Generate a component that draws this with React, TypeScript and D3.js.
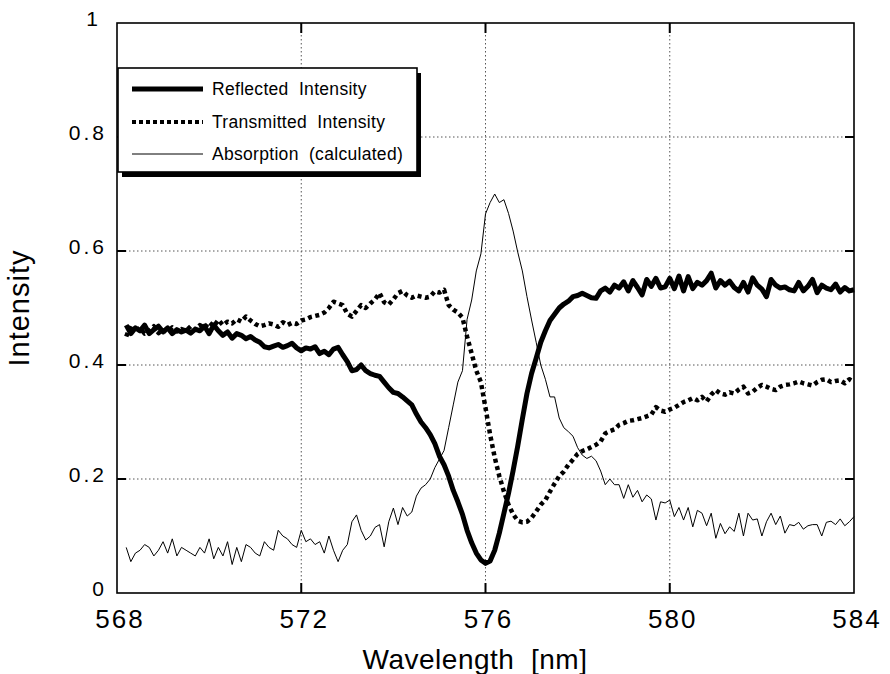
import React from "react";
import * as d3 from "d3";

// sampling grid: 568.2 .. 584.0 nm, 0.1 nm apart
const wavelengths = d3.range(0, 159).map(i => +(568.2 + i * 0.1).toFixed(1));

const reflected = [
  0.47, 0.455, 0.465, 0.46, 0.47, 0.455, 0.462, 0.468,
  0.458, 0.465, 0.455, 0.462, 0.458, 0.461, 0.456, 0.463, 0.46, 0.468,
  0.455, 0.47, 0.46, 0.452, 0.458, 0.447, 0.455, 0.452, 0.446, 0.45,
  0.444, 0.44, 0.432, 0.43, 0.433, 0.436, 0.431, 0.434, 0.438, 0.43,
  0.425, 0.43, 0.428, 0.432, 0.42, 0.424, 0.418, 0.428, 0.431, 0.418,
  0.406, 0.39, 0.392, 0.4, 0.39, 0.385, 0.382, 0.38, 0.37, 0.36,
  0.352, 0.35, 0.344, 0.337, 0.33, 0.314, 0.3, 0.29, 0.278, 0.262,
  0.24, 0.225, 0.205, 0.18, 0.16, 0.138, 0.11, 0.088, 0.07, 0.058,
  0.052, 0.056, 0.075, 0.105, 0.14, 0.175, 0.215, 0.258, 0.305, 0.35,
  0.385, 0.412, 0.44, 0.46, 0.478, 0.489, 0.5, 0.507, 0.512, 0.52,
  0.522, 0.526, 0.522, 0.518, 0.517, 0.53, 0.535, 0.528, 0.54, 0.535,
  0.546, 0.53, 0.548, 0.536, 0.523, 0.55, 0.538, 0.552, 0.535, 0.537,
  0.552, 0.534, 0.556, 0.53, 0.555, 0.534, 0.545, 0.54, 0.548, 0.561,
  0.535, 0.548, 0.54, 0.547, 0.536, 0.53, 0.545, 0.528, 0.553, 0.54,
  0.533, 0.52, 0.55, 0.54, 0.535, 0.537, 0.532, 0.53, 0.545, 0.53,
  0.538, 0.55, 0.527, 0.54, 0.535, 0.532, 0.542, 0.528, 0.536, 0.53,
  0.532,
];

const transmitted = [
  0.45, 0.47, 0.458, 0.465, 0.455, 0.46, 0.468, 0.456,
  0.462, 0.458, 0.466, 0.459, 0.463, 0.46, 0.468, 0.462, 0.47, 0.465,
  0.475, 0.468, 0.479, 0.47, 0.476, 0.473, 0.48, 0.476, 0.485, 0.478,
  0.472, 0.468, 0.47, 0.473, 0.471, 0.467, 0.475, 0.47, 0.474, 0.472,
  0.478, 0.48, 0.484, 0.486, 0.488, 0.492, 0.5, 0.511, 0.508, 0.505,
  0.49, 0.485, 0.495, 0.505, 0.5, 0.508, 0.515, 0.526, 0.51, 0.506,
  0.515, 0.526, 0.53, 0.522, 0.518, 0.522, 0.52, 0.518, 0.52, 0.529,
  0.527, 0.532, 0.505, 0.497, 0.492, 0.483, 0.45, 0.42, 0.39, 0.37,
  0.325, 0.278, 0.238, 0.205, 0.178, 0.155, 0.138, 0.127, 0.124, 0.125,
  0.132, 0.143, 0.155, 0.163, 0.178, 0.192, 0.205, 0.213, 0.225, 0.234,
  0.244, 0.249, 0.252, 0.256, 0.26, 0.266, 0.28, 0.284, 0.287, 0.295,
  0.298, 0.302, 0.303, 0.305, 0.307, 0.31, 0.313, 0.326, 0.32, 0.318,
  0.322, 0.325, 0.33, 0.335, 0.338, 0.342, 0.338, 0.344, 0.336, 0.348,
  0.356, 0.35, 0.348, 0.352, 0.35, 0.357, 0.362, 0.35, 0.353, 0.36,
  0.365, 0.362, 0.358, 0.356, 0.362, 0.365, 0.366, 0.368, 0.371, 0.368,
  0.366, 0.364, 0.37, 0.374, 0.375, 0.37, 0.372, 0.373, 0.368, 0.375,
  0.37,
];

const absorption = [
  0.08, 0.055, 0.07, 0.075, 0.085, 0.08, 0.065, 0.075,
  0.09, 0.07, 0.095, 0.065, 0.08, 0.075, 0.07, 0.065, 0.08, 0.07,
  0.095, 0.06, 0.08, 0.065, 0.09, 0.05, 0.08, 0.055, 0.085, 0.08,
  0.07, 0.065, 0.09, 0.08, 0.075, 0.11, 0.1, 0.095, 0.085, 0.08,
  0.11, 0.09, 0.095, 0.085, 0.09, 0.07, 0.1, 0.075, 0.055, 0.075,
  0.085, 0.125, 0.137, 0.11, 0.093, 0.1, 0.115, 0.12, 0.081, 0.125,
  0.149, 0.12, 0.15, 0.135, 0.142, 0.17, 0.184, 0.19, 0.2, 0.22,
  0.235, 0.25, 0.29, 0.33, 0.37, 0.39, 0.48, 0.514, 0.565, 0.595,
  0.665, 0.685, 0.7, 0.685, 0.69, 0.666, 0.635, 0.598, 0.565, 0.52,
  0.479, 0.44, 0.4, 0.375, 0.344, 0.344, 0.307, 0.29, 0.283, 0.275,
  0.255, 0.242, 0.236, 0.24, 0.232, 0.214, 0.19, 0.2, 0.19, 0.19,
  0.166, 0.19, 0.168, 0.18, 0.16, 0.172, 0.165, 0.128, 0.16, 0.158,
  0.163, 0.134, 0.15, 0.128, 0.15, 0.116, 0.145, 0.14, 0.118, 0.14,
  0.096, 0.122, 0.104, 0.116, 0.108, 0.14, 0.1, 0.14, 0.128, 0.13,
  0.1, 0.125, 0.14, 0.12, 0.135, 0.105, 0.12, 0.118, 0.124, 0.112,
  0.118, 0.12, 0.12, 0.1, 0.124, 0.126, 0.12, 0.13, 0.118, 0.125,
  0.134,
];

const xTicks = [568, 572, 576, 580, 584];
const yTicks = [0, 0.2, 0.4, 0.6, 0.8, 1];
const yTickLabels = ["0", "0.2", "0.4", "0.6", "0.8", "1"];
const legendLabels = ["Reflected  Intensity", "Transmitted  Intensity", "Absorption  (calculated)"];

const FONT = "'Liberation Sans', Arial, Helvetica, sans-serif";

export default function App() {
  const width = 890, height = 674;
  const left = 117, right = 854, top = 23, bottom = 593;

  const x = d3.scaleLinear().domain([568, 584]).range([left, right]);
  const y = d3.scaleLinear().domain([0, 1]).range([bottom, top]);

  const line = d3.line<number>()
    .x((_, i) => x(wavelengths[i]))
    .y(d => y(d));

  const series = [
    { data: absorption, width: 1, dash: null },
    { data: transmitted, width: 4.5, dash: "4,3.5" },
    { data: reflected, width: 5, dash: null },
  ];

  const legendStyles = [
    { width: 5, dash: null },
    { width: 4, dash: "4,3" },
    { width: 1, dash: null },
  ];

  const lgX = 118, lgY = 68, lgW = 299, lgH = 104;

  return (
    <svg width={width} height={height} style={{ position: "absolute", left: 0, top: 0, background: "#fff" }}
      fontFamily={FONT}>
      <rect width={width} height={height} fill="#fff" />

      {/* grid */}
      {xTicks.slice(1, -1).map(t => (
        <line key={"gx" + t} x1={x(t)} x2={x(t)} y1={top} y2={bottom}
          stroke="#555" strokeWidth={1} strokeDasharray="1.5,2.5" />
      ))}
      {yTicks.slice(1, -1).map(t => (
        <line key={"gy" + t} x1={left} x2={right} y1={y(t)} y2={y(t)}
          stroke="#555" strokeWidth={1} strokeDasharray="1.5,2.5" />
      ))}

      {/* series */}
      {series.map((s, i) => (
        <path key={i} d={line(s.data) || ""} fill="none" stroke="#000"
          strokeWidth={s.width} strokeDasharray={s.dash || undefined}
          strokeLinejoin="round" />
      ))}

      {/* frame */}
      <rect x={left} y={top} width={right - left} height={bottom - top}
        fill="none" stroke="#000" strokeWidth={1.6} />

      {/* inward ticks */}
      {xTicks.slice(1, -1).map(t => (
        <g key={"tx" + t}>
          <line x1={x(t)} x2={x(t)} y1={bottom} y2={bottom - 10} stroke="#000" strokeWidth={2} />
          <line x1={x(t)} x2={x(t)} y1={top} y2={top + 10} stroke="#000" strokeWidth={2} />
        </g>
      ))}
      {yTicks.slice(1, -1).map(t => (
        <g key={"ty" + t}>
          <line x1={left} x2={left + 9} y1={y(t)} y2={y(t)} stroke="#000" strokeWidth={2} />
          <line x1={right} x2={right - 9} y1={y(t)} y2={y(t)} stroke="#000" strokeWidth={2} />
        </g>
      ))}

      {/* tick labels */}
      {xTicks.map(t => (
        <text key={"lx" + t} x={x(t) + 3} y={628} fontSize={26} textAnchor="middle"
          letterSpacing={2}>{t}</text>
      ))}
      {yTicks.map((t, i) => (
        <text key={"ly" + t} x={t === 1 ? 101 : 107} y={y(t) - 3} fontSize={21}
          textAnchor="end" letterSpacing={3} dominantBaseline="middle">{yTickLabels[i]}</text>
      ))}

      {/* axis titles */}
      <text x={475} y={669} fontSize={28} textAnchor="middle" letterSpacing={0.5}
        xmlSpace="preserve">{"Wavelength  [nm]"}</text>
      <text transform={`translate(29,${(top + bottom) / 2}) rotate(-90)`} fontSize={29}
        textAnchor="middle" letterSpacing={1}>Intensity</text>

      {/* legend */}
      <rect x={lgX + 4} y={lgY + 5} width={lgW} height={lgH} fill="#000" />
      <rect x={lgX} y={lgY} width={lgW} height={lgH} fill="#fff" stroke="#000" strokeWidth={1.6} />
      {legendLabels.map((lab, i) => {
        const ly = [89, 122, 154][i];
        const st = legendStyles[i];
        return (
          <g key={lab}>
            <line x1={132} x2={203} y1={ly} y2={ly} stroke="#000" strokeWidth={st.width}
              strokeDasharray={st.dash || undefined} />
            <text x={212} y={ly + 6} fontSize={17.5} letterSpacing={0.3} xmlSpace="preserve">{lab}</text>
          </g>
        );
      })}
    </svg>
  );
}
